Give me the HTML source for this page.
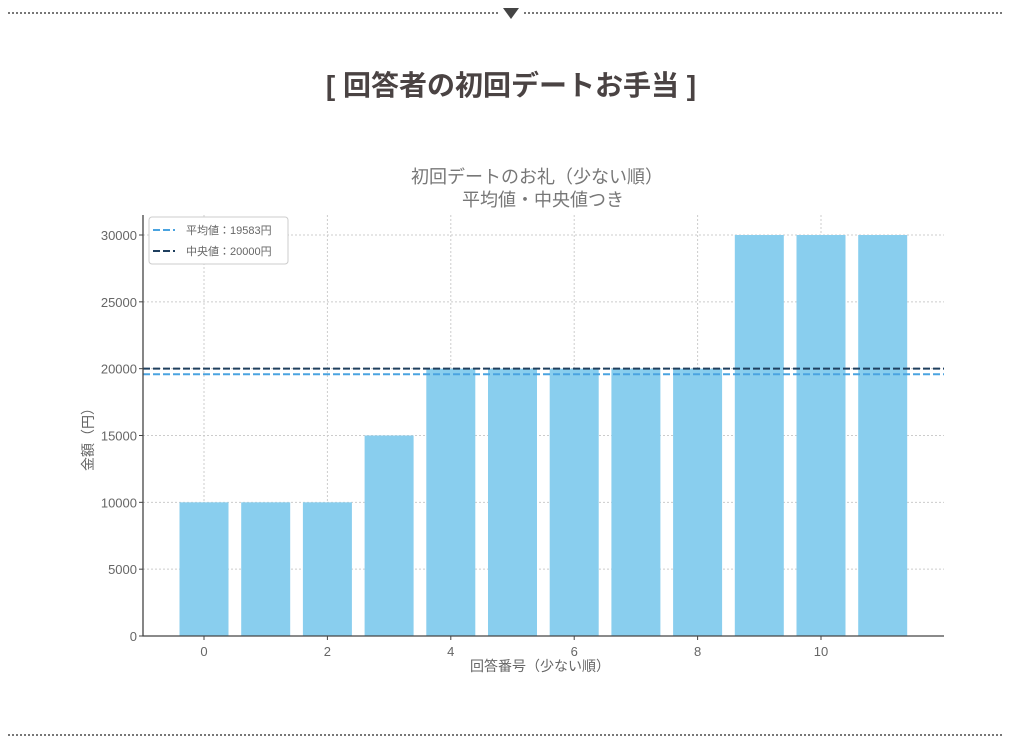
<!DOCTYPE html>
<html><head><meta charset="utf-8"><style>
body{margin:0;background:#fff;width:1024px;height:749px;overflow:hidden;font-family:"Liberation Sans","Noto Sans CJK JP",sans-serif;}
</style></head><body>
<svg id="c" width="1024" height="749" xmlns="http://www.w3.org/2000/svg" style="font-family:'Liberation Sans','Noto Sans CJK JP',sans-serif">
<line x1="8" y1="13" x2="1004" y2="13" stroke="#777" stroke-width="2" stroke-dasharray="2,2"/>
<rect x="500" y="8" width="22" height="10" fill="#fff"/>
<polygon points="503,8 519,8 511,19" fill="#444"/>
<text x="511" y="95" text-anchor="middle" font-size="28" font-weight="bold" fill="#4a4343">[ 回答者の初回デートお手当 ]</text>
<line x1="8" y1="735" x2="1004" y2="735" stroke="#777" stroke-width="2" stroke-dasharray="2,2"/>
<text x="537" y="183" text-anchor="middle" font-size="18" fill="#777">初回デートのお礼（少ない順）</text>
<text x="543" y="206" text-anchor="middle" font-size="18" fill="#777">平均値・中央値つき</text>
<g id="grid"></g><g id="bars"></g><g id="axes"></g>
</svg>
<script>
const categories=[0,1,2,3,4,5,6,7,8,9,10,11];
const values=[10000,10000,10000,15000,20000,20000,20000,20000,20000,30000,30000,30000];
const yTicks=[0,5000,10000,15000,20000,25000,30000];
const xTicks=[0,2,4,6,8,10];
const meanValue=19583;
const medianValue=20000;
const NS="http://www.w3.org/2000/svg";
const L=143,R=944,B=636,T=215;
function y(v){return B-v*(401/30000);}
function x(i){return 204+i*61.7;}
function mk(tag,attrs,parent){const e=document.createElementNS(NS,tag);for(const k in attrs)e.setAttribute(k,attrs[k]);document.getElementById(parent).appendChild(e);return e;}
yTicks.forEach(v=>{
  const g=mk('line',{x1:L,x2:R,y1:y(v),y2:y(v),stroke:'#ccc','stroke-dasharray':'2,2'},'grid');
  
  
  const t=mk('text',{x:L-6,y:y(v)+5,'text-anchor':'end','font-size':13,fill:'#666'},'axes');
  t.textContent=v;
  
  
  mk('line',{x1:L-4,x2:L,y1:y(v),y2:y(v),stroke:'#444'},'axes');
});
xTicks.forEach(v=>{
  const g=mk('line',{x1:x(v),x2:x(v),y1:T,y2:B,stroke:'#ccc','stroke-dasharray':'2,2'},'grid');
  
  
  const t=mk('text',{x:x(v),y:B+20,'text-anchor':'middle','font-size':13,fill:'#666'},'axes');
  t.textContent=v;
  
  
  mk('line',{x1:x(v),x2:x(v),y1:B,y2:B+4,stroke:'#444'},'axes');
});
categories.forEach((c,i)=>{
  const r=mk('rect',{x:x(c)-24.5,y:y(values[i]),width:49,height:B-y(values[i]),fill:'#89ceee'},'bars');
  
  
});
let m=mk('line',{x1:L,x2:R,y1:y(meanValue),y2:y(meanValue),stroke:'#4aa3e0','stroke-width':2,'stroke-dasharray':'7,3'},'bars');


let md=mk('line',{x1:L,x2:R,y1:y(medianValue),y2:y(medianValue),stroke:'#1f3f5e','stroke-width':2,'stroke-dasharray':'7,3'},'bars');


let ax=mk('path',{d:`M${L},${T} V${B} H${R}`,fill:'none',stroke:'#444','stroke-width':1.3},'axes');


let xl=mk('text',{x:540,y:671,'text-anchor':'middle','font-size':14,fill:'#666'},'axes');
xl.textContent='回答番号（少ない順）';


let yl=mk('text',{x:0,y:0,'text-anchor':'middle','font-size':14,fill:'#666',transform:'translate(93,436) rotate(-90)'},'axes');
yl.textContent='金額（円）';


let lg=mk('rect',{x:149,y:217,width:139,height:47,rx:3,fill:'#fff',stroke:'#ccc'},'axes');


[[meanValue,'#4aa3e0','平均値：'],[medianValue,'#1f3f5e','中央値：']].forEach((d,i)=>{
  const yy=230+i*21;
  mk('line',{x1:153,x2:175,y1:yy,y2:yy,stroke:d[1],'stroke-width':2,'stroke-dasharray':'7,3'},'axes');
  const t=mk('text',{x:186,y:yy+4,'font-size':11,fill:'#666'},'axes');
  t.textContent=d[2]+d[0]+'円';
  
  
});
</script>
</body></html>
